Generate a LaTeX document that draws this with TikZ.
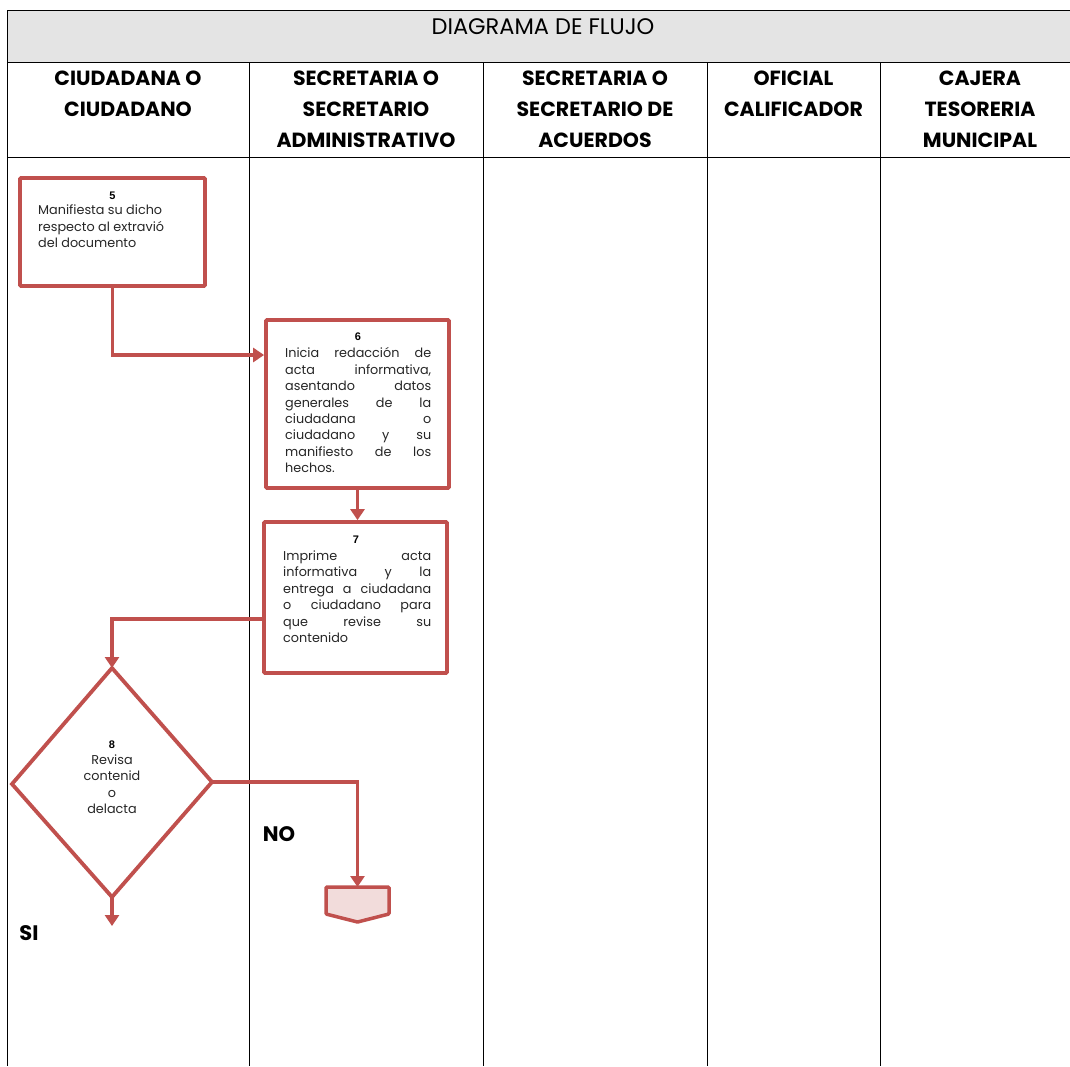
\documentclass[tikz,border=0pt]{standalone}
\usepackage{fontspec}
\setmainfont{Poppins}
\newfontfamily\numfont{Liberation Sans}
\usetikzlibrary{arrows.meta}
\definecolor{redln}{HTML}{C0504D}
\definecolor{pinkf}{HTML}{F2DCDB}
\definecolor{grayb}{HTML}{E4E4E4}
\tikzset{
  grid/.style={line width=1pt,black},
  stepbox/.style={draw=redln,line width=3.8pt,rectangle,inner sep=0pt,rounded corners=1pt},
  conn/.style={draw=redln,line width=3.5pt,-{Triangle[width=14pt,length=11pt]}},
  head/.style={align=center,font=\bfseries\fontsize{20.5}{31}\selectfont,inner sep=0pt,anchor=north},
  num/.style={font=\numfont\bfseries\fontsize{11}{12}\selectfont,inner sep=0pt},
  body/.style={font=\fontsize{12.8}{16.4}\selectfont,inner sep=0pt,anchor=north west,align=left,text=black!85},
  lbl/.style={font=\bfseries\fontsize{21}{24}\selectfont,inner sep=0pt}
}
\begin{document}
\begin{tikzpicture}[x=1pt,y=-1pt]
\useasboundingbox (0,0) rectangle (1070,1066);
\fill[white] (0,0) rectangle (1070,1066);
% table
\fill[grayb] (7,10) rectangle (1070,62);
\draw[grid] (1070,10) -- (7,10) -- (7,1066);
\draw[grid] (7,62) -- (1070,62);
\draw[grid] (7,157) -- (1070,157);
\foreach \xx in {249,483,707,880} \draw[grid] (\xx,62) -- (\xx,1066);
\node[inner sep=0pt,font=\fontsize{22.5}{24}\selectfont] (title) at (543,27) {DIAGRAMA DE FLUJO};
\node[head] (h1) at (128,71) {CIUDADANA O\\CIUDADANO};
\node[head] (h2) at (366,71) {SECRETARIA O\\SECRETARIO\\ADMINISTRATIVO};
\node[head] (h3) at (595,71) {SECRETARIA O\\SECRETARIO DE\\ACUERDOS};
\node[head] (h4) at (793.5,71) {OFICIAL\\CALIFICADOR};
\node[head] (h5) at (980,71) {CAJERA\\TESORERIA\\MUNICIPAL};
% boxes
\node[stepbox,minimum width=185pt,minimum height=108pt] (box5) at (112.5,232) {};
\node[stepbox,minimum width=183pt,minimum height=168pt] (box6) at (357.5,404) {};
\node[stepbox,minimum width=183pt,minimum height=151pt] (box7) at (355.5,597.5) {};
% diamond
\coordinate (dtop) at (112,668);
\coordinate (dleft) at (12,784);
\coordinate (dright) at (212,782);
\coordinate (dbot) at (112,897);
\draw[draw=redln,line width=3.8pt,line join=miter] (dtop) -- (dright) -- (dbot) -- (dleft) -- cycle;
% off-page connector
\coordinate (offtop) at (357.5,887);
\draw[draw=redln,fill=pinkf,line width=3.5pt,rounded corners=1pt] (326,887) -- (389,887) -- (389,914) -- (357.5,922) -- (326,914) -- cycle;
% texts
\node[num] (n5) at (112.5,196) {5};
\node[body] (t5) at (38,205) {Manifiesta su dicho\\respecto al extravió\\del documento};
\node[num] (n6) at (358,337) {6};
\node[body] (t6) at (285,347.5) {%
\makebox[146pt][s]{Inicia redacción de}\\
\makebox[146pt][s]{acta informativa,}\\
\makebox[146pt][s]{asentando datos}\\
\makebox[146pt][s]{generales de la}\\
\makebox[146pt][s]{ciudadana o}\\
\makebox[146pt][s]{ciudadano y su}\\
\makebox[146pt][s]{manifiesto de los}\\
hechos.};
\node[num] (n7) at (356,540) {7};
\node[body] (t7) at (283,550.5) {%
\makebox[148pt][s]{Imprime acta}\\
\makebox[148pt][s]{informativa y la}\\
\makebox[148pt][s]{entrega a ciudadana}\\
\makebox[148pt][s]{o ciudadano para}\\
\makebox[148pt][s]{que revise su}\\
contenido};
\node[num] (n8) at (112,745) {8};
\node[body,anchor=north,align=center] (t8) at (112,754.5) {Revisa\\contenid\\o\\delacta};
\node[lbl] (no) at (279,834) {NO};
\node[lbl] (si) at (29,933) {SI};
% connectors
\draw[conn] (box5.south) |- (box6.west |- 0,355);
\draw[conn] (box6.south) -- (box6.south |- box7.north);
\draw[conn] (box7.west |- 0,619) -| (dtop);
\draw[conn] (dright) -| (offtop);
\coordinate (siend) at (112,926);
\draw[conn] (dbot) -- (siend);
\end{tikzpicture}
\end{document}
